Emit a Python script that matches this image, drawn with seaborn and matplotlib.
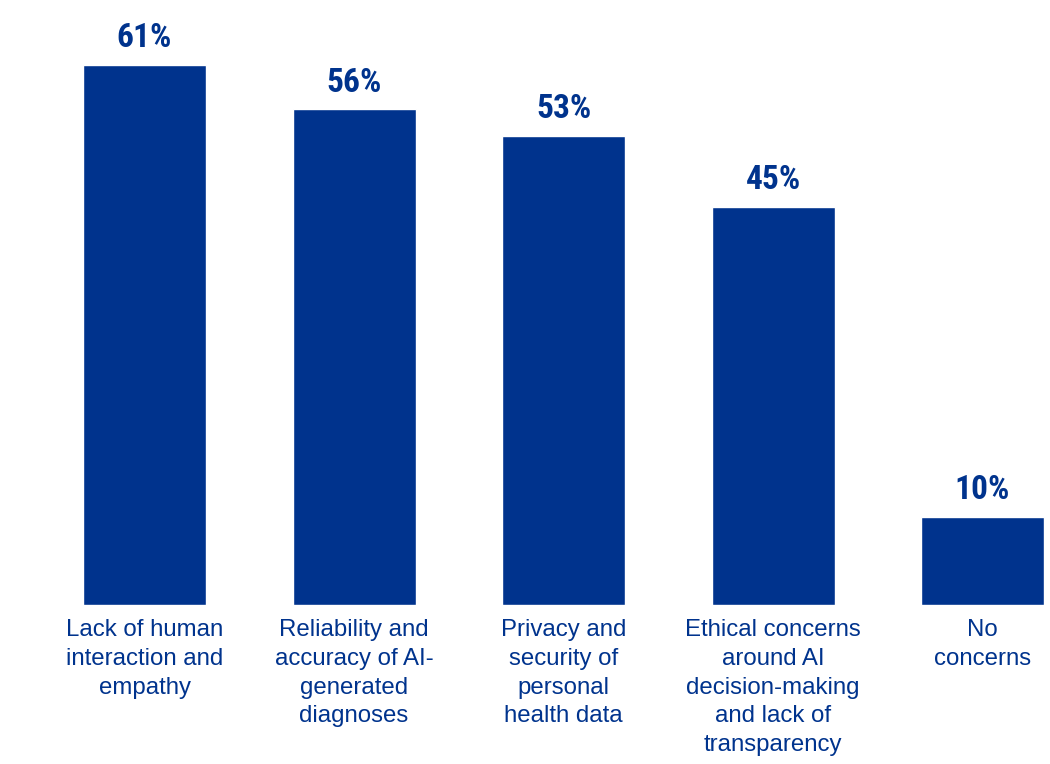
import matplotlib
matplotlib.use("Agg")
import matplotlib.pyplot as plt
import seaborn as sns
import pandas as pd

# Survey results: concerns about AI in healthcare
categories = [
    "Lack of human\ninteraction and\nempathy",
    "Reliability and\naccuracy of AI-\ngenerated\ndiagnoses",
    "Privacy and\nsecurity of\npersonal\nhealth data",
    "Ethical concerns\naround AI\ndecision-making\nand lack of\ntransparency",
    "No\nconcerns",
]
values = [61, 56, 53, 45, 10]
value_labels = ["61%", "56%", "53%", "45%", "10%"]

BLUE = "#00338D"

sns.set_theme(style="white")
plt.rcParams["font.family"] = ["Liberation Sans", "DejaVu Sans"]

df = pd.DataFrame({"category": categories, "value": values})

fig = plt.figure(figsize=(10.5, 7.64), dpi=100)
ax = fig.add_axes([0.0, 0.2081, 1.0, 0.7919])

sns.barplot(data=df, x="category", y="value", color=BLUE, saturation=1,
            width=0.587, ax=ax)

ax.set_xlim(-0.69, 4.322)
ax.set_ylim(0, 68.36)

# Percent labels above each bar, in a narrow bold face
for i, (v, lab) in enumerate(zip(values, value_labels)):
    ax.annotate(lab, xy=(i, v), xytext=(0, 12.8), textcoords="offset points",
                ha="center", va="baseline", color=BLUE, fontsize=24,
                fontweight="bold", fontstretch="condensed",
                family=["Roboto Condensed", "Roboto"])

ax.set_xlabel("")
ax.set_ylabel("")
ax.set_yticks([])
ax.set_xticks(range(len(categories)), labels=categories, linespacing=1.39)
ax.tick_params(axis="x", length=0, pad=10.3, labelsize=17.3, labelcolor=BLUE)
for s in ax.spines.values():
    s.set_visible(False)

fig.savefig("out.png", dpi=100, facecolor="white")
